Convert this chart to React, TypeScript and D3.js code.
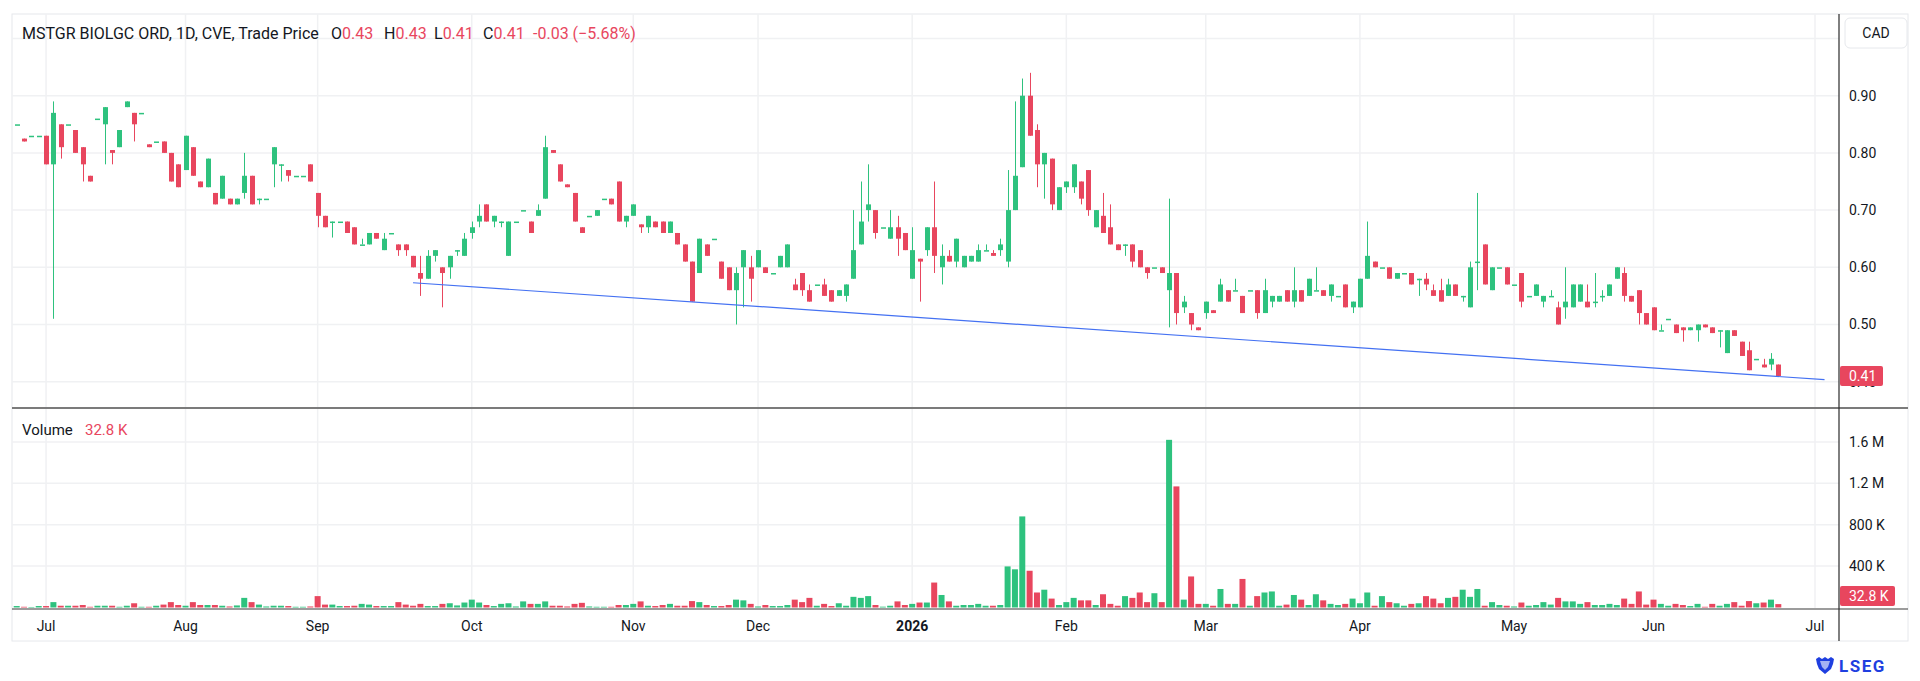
import React from "react";
import * as d3 from "d3";

// open, high, low, close, volume (thousands)
type Bar = [number, number, number, number, number];

const jun25: Bar[] = [
  [0.85, 0.85, 0.85, 0.85, 14], [0.825, 0.825, 0.82, 0.82, 7], [0.83, 0.83, 0.83, 0.83, 5], [0.83, 0.83, 0.83, 0.83, 14],
];
const jul25: Bar[] = [
  [0.83, 0.83, 0.78, 0.78, 14], [0.78, 0.89, 0.51, 0.87, 52], [0.85, 0.85, 0.79, 0.81, 17], [0.85, 0.85, 0.85, 0.85, 17],
  [0.84, 0.84, 0.8, 0.8, 17], [0.81, 0.81, 0.75, 0.78, 24], [0.76, 0.76, 0.75, 0.75, 7], [0.86, 0.86, 0.86, 0.86, 17],
  [0.85, 0.88, 0.78, 0.88, 17], [0.805, 0.805, 0.78, 0.8, 17], [0.81, 0.84, 0.81, 0.84, 7], [0.88, 0.89, 0.88, 0.89, 17],
  [0.87, 0.87, 0.82, 0.85, 41], [0.87, 0.87, 0.87, 0.87, 7], [0.815, 0.815, 0.81, 0.81, 7], [0.82, 0.82, 0.82, 0.82, 17],
  [0.82, 0.82, 0.8, 0.8, 28], [0.8, 0.8, 0.75, 0.75, 52], [0.78, 0.78, 0.74, 0.74, 24],
];
const aug25: Bar[] = [
  [0.77, 0.83, 0.77, 0.83, 17], [0.81, 0.81, 0.76, 0.76, 52], [0.75, 0.75, 0.74, 0.74, 24], [0.74, 0.79, 0.74, 0.79, 24],
  [0.73, 0.73, 0.71, 0.71, 24], [0.72, 0.76, 0.72, 0.76, 17], [0.72, 0.72, 0.71, 0.71, 10], [0.71, 0.72, 0.71, 0.72, 20],
  [0.73, 0.8, 0.72, 0.76, 93], [0.76, 0.76, 0.71, 0.71, 52], [0.72, 0.72, 0.71, 0.72, 28], [0.72, 0.72, 0.72, 0.72, 10],
  [0.78, 0.81, 0.74, 0.81, 17], [0.78, 0.78, 0.75, 0.78, 17], [0.77, 0.77, 0.75, 0.76, 14], [0.76, 0.76, 0.76, 0.76, 7],
  [0.76, 0.76, 0.76, 0.76, 7], [0.78, 0.78, 0.75, 0.75, 10],
];
const sep25: Bar[] = [
  [0.73, 0.73, 0.67, 0.69, 110], [0.69, 0.69, 0.67, 0.67, 28], [0.68, 0.68, 0.652, 0.68, 28], [0.68, 0.68, 0.68, 0.68, 14],
  [0.68, 0.68, 0.66, 0.66, 14], [0.67, 0.67, 0.64, 0.64, 17], [0.64, 0.65, 0.64, 0.64, 35], [0.64, 0.66, 0.64, 0.66, 28],
  [0.66, 0.66, 0.65, 0.65, 14], [0.63, 0.66, 0.63, 0.65, 14], [0.66, 0.66, 0.66, 0.66, 14], [0.64, 0.64, 0.62, 0.63, 52],
  [0.64, 0.64, 0.62, 0.63, 28], [0.62, 0.62, 0.6, 0.6, 17], [0.59, 0.62, 0.55, 0.58, 35], [0.58, 0.63, 0.58, 0.62, 14],
  [0.62, 0.63, 0.61, 0.63, 14], [0.6, 0.6, 0.53, 0.59, 35], [0.6, 0.62, 0.58, 0.62, 41], [0.63, 0.63, 0.62, 0.63, 20],
  [0.62, 0.66, 0.62, 0.65, 48],
];
const oct25: Bar[] = [
  [0.66, 0.68, 0.65, 0.67, 76], [0.68, 0.71, 0.67, 0.69, 48], [0.71, 0.71, 0.68, 0.68, 24], [0.68, 0.69, 0.67, 0.69, 14],
  [0.68, 0.68, 0.67, 0.68, 35], [0.62, 0.68, 0.62, 0.68, 41], [0.68, 0.68, 0.68, 0.68, 10], [0.7, 0.7, 0.7, 0.7, 59],
  [0.68, 0.68, 0.66, 0.66, 35], [0.69, 0.71, 0.69, 0.7, 35], [0.72, 0.83, 0.72, 0.81, 59], [0.805, 0.805, 0.8, 0.8, 17],
  [0.78, 0.78, 0.75, 0.75, 17], [0.745, 0.745, 0.74, 0.74, 10], [0.73, 0.73, 0.68, 0.68, 35], [0.67, 0.67, 0.66, 0.66, 45],
  [0.69, 0.69, 0.69, 0.69, 10], [0.69, 0.7, 0.69, 0.7, 7], [0.72, 0.72, 0.72, 0.72, 7], [0.72, 0.72, 0.71, 0.71, 7],
  [0.75, 0.75, 0.68, 0.68, 24], [0.68, 0.69, 0.67, 0.69, 24],
];
const nov25: Bar[] = [
  [0.69, 0.71, 0.69, 0.71, 35], [0.675, 0.675, 0.66, 0.67, 59], [0.67, 0.69, 0.66, 0.69, 17], [0.68, 0.68, 0.67, 0.67, 14],
  [0.68, 0.68, 0.66, 0.66, 24], [0.66, 0.68, 0.66, 0.68, 35], [0.66, 0.66, 0.64, 0.64, 17], [0.64, 0.64, 0.61, 0.61, 17],
  [0.61, 0.61, 0.54, 0.54, 62], [0.59, 0.65, 0.59, 0.65, 52], [0.64, 0.64, 0.62, 0.62, 24], [0.65, 0.65, 0.65, 0.65, 14],
  [0.61, 0.61, 0.58, 0.58, 14], [0.6, 0.6, 0.56, 0.56, 24], [0.56, 0.6, 0.5, 0.59, 76], [0.6, 0.63, 0.53, 0.63, 69],
  [0.6, 0.62, 0.54, 0.58, 35],
];
const dec25: Bar[] = [
  [0.6, 0.63, 0.6, 0.63, 10], [0.6, 0.6, 0.59, 0.59, 24], [0.59, 0.59, 0.59, 0.59, 14], [0.6, 0.62, 0.6, 0.62, 14],
  [0.6, 0.64, 0.6, 0.64, 24], [0.57, 0.58, 0.56, 0.56, 76], [0.59, 0.59, 0.55, 0.56, 52], [0.56, 0.57, 0.54, 0.54, 93],
  [0.57, 0.57, 0.57, 0.57, 17], [0.57, 0.58, 0.55, 0.55, 35], [0.56, 0.56, 0.54, 0.54, 14], [0.55, 0.56, 0.55, 0.56, 41],
  [0.55, 0.57, 0.54, 0.57, 17], [0.58, 0.7, 0.58, 0.63, 103], [0.64, 0.75, 0.64, 0.68, 93], [0.7, 0.78, 0.68, 0.71, 110],
  [0.7, 0.7, 0.65, 0.66, 24], [0.67, 0.67, 0.67, 0.67, 8], [0.65, 0.7, 0.65, 0.67, 17], [0.67, 0.69, 0.62, 0.65, 59],
  [0.66, 0.66, 0.63, 0.63, 24],
];
const jan26: Bar[] = [
  [0.58, 0.67, 0.58, 0.63, 35], [0.615, 0.615, 0.54, 0.61, 48], [0.63, 0.67, 0.62, 0.67, 48], [0.67, 0.75, 0.59, 0.62, 241],
  [0.6, 0.64, 0.57, 0.62, 121], [0.62, 0.63, 0.61, 0.61, 59], [0.61, 0.65, 0.6, 0.65, 17], [0.6, 0.62, 0.6, 0.62, 24],
  [0.61, 0.62, 0.61, 0.62, 24], [0.61, 0.64, 0.61, 0.63, 35], [0.63, 0.64, 0.63, 0.63, 17], [0.625, 0.63, 0.62, 0.62, 17],
  [0.63, 0.65, 0.62, 0.64, 24], [0.61, 0.77, 0.6, 0.7, 397], [0.7, 0.89, 0.7, 0.76, 369], [0.775, 0.93, 0.775, 0.9, 880],
  [0.9, 0.94, 0.83, 0.83, 355], [0.84, 0.85, 0.74, 0.78, 145], [0.78, 0.8, 0.72, 0.8, 172], [0.79, 0.79, 0.7, 0.71, 86],
  [0.7, 0.74, 0.7, 0.74, 24],
];
const feb26: Bar[] = [
  [0.74, 0.75, 0.73, 0.75, 52], [0.74, 0.78, 0.73, 0.78, 93], [0.75, 0.75, 0.71, 0.72, 69], [0.77, 0.77, 0.69, 0.7, 69],
  [0.67, 0.7, 0.67, 0.7, 24], [0.69, 0.73, 0.66, 0.66, 128], [0.67, 0.71, 0.64, 0.64, 35], [0.64, 0.64, 0.63, 0.63, 17],
  [0.64, 0.64, 0.62, 0.64, 110], [0.64, 0.64, 0.6, 0.61, 93], [0.63, 0.63, 0.6, 0.6, 145], [0.6, 0.6, 0.58, 0.59, 52],
  [0.6, 0.6, 0.6, 0.6, 138], [0.6, 0.6, 0.59, 0.59, 52], [0.56, 0.72, 0.495, 0.59, 1620], [0.59, 0.59, 0.5, 0.52, 1170],
  [0.53, 0.55, 0.52, 0.54, 76], [0.52, 0.52, 0.49, 0.5, 300], [0.495, 0.495, 0.49, 0.49, 35],
];
const mar26: Bar[] = [
  [0.52, 0.54, 0.51, 0.54, 35], [0.525, 0.525, 0.52, 0.52, 17], [0.54, 0.58, 0.54, 0.57, 179], [0.56, 0.56, 0.54, 0.54, 35],
  [0.56, 0.58, 0.56, 0.56, 35], [0.55, 0.55, 0.52, 0.52, 276], [0.56, 0.56, 0.56, 0.56, 17], [0.56, 0.56, 0.51, 0.52, 110],
  [0.52, 0.58, 0.52, 0.56, 145], [0.54, 0.55, 0.53, 0.55, 155], [0.54, 0.55, 0.54, 0.55, 17], [0.56, 0.56, 0.54, 0.54, 28],
  [0.54, 0.6, 0.53, 0.56, 121], [0.56, 0.56, 0.54, 0.54, 76], [0.55, 0.58, 0.55, 0.58, 24], [0.56, 0.6, 0.56, 0.56, 128],
  [0.56, 0.56, 0.55, 0.55, 69], [0.55, 0.57, 0.54, 0.57, 35], [0.55, 0.55, 0.55, 0.55, 24], [0.57, 0.57, 0.53, 0.53, 35],
  [0.53, 0.54, 0.52, 0.54, 86],
];
const apr26: Bar[] = [
  [0.53, 0.58, 0.53, 0.58, 41], [0.58, 0.68, 0.58, 0.62, 145], [0.61, 0.61, 0.6, 0.6, 17], [0.6, 0.6, 0.6, 0.6, 110],
  [0.6, 0.6, 0.58, 0.58, 52], [0.58, 0.59, 0.58, 0.59, 41], [0.59, 0.59, 0.59, 0.59, 17], [0.59, 0.59, 0.57, 0.57, 35],
  [0.58, 0.58, 0.55, 0.58, 41], [0.58, 0.59, 0.56, 0.57, 110], [0.56, 0.57, 0.55, 0.55, 86], [0.56, 0.58, 0.54, 0.54, 41],
  [0.55, 0.58, 0.55, 0.57, 93], [0.57, 0.57, 0.55, 0.55, 103], [0.55, 0.55, 0.54, 0.55, 172], [0.53, 0.61, 0.53, 0.6, 103],
  [0.61, 0.73, 0.56, 0.61, 179], [0.64, 0.64, 0.57, 0.57, 17], [0.56, 0.6, 0.56, 0.6, 52], [0.6, 0.6, 0.6, 0.6, 24],
  [0.6, 0.6, 0.57, 0.57, 17],
];
const may26: Bar[] = [
  [0.57, 0.57, 0.57, 0.57, 10], [0.59, 0.59, 0.53, 0.54, 48], [0.55, 0.55, 0.55, 0.55, 17], [0.55, 0.57, 0.55, 0.57, 24],
  [0.54, 0.55, 0.53, 0.55, 52], [0.55, 0.56, 0.55, 0.55, 28], [0.53, 0.54, 0.5, 0.5, 93], [0.53, 0.6, 0.51, 0.54, 59],
  [0.53, 0.57, 0.53, 0.57, 59], [0.54, 0.57, 0.54, 0.57, 35], [0.54, 0.57, 0.53, 0.53, 52], [0.54, 0.59, 0.53, 0.54, 24],
  [0.55, 0.56, 0.54, 0.55, 24], [0.55, 0.57, 0.55, 0.57, 35], [0.58, 0.6, 0.58, 0.6, 24], [0.59, 0.6, 0.54, 0.55, 86],
  [0.55, 0.55, 0.54, 0.54, 35], [0.56, 0.56, 0.5, 0.52, 155], [0.52, 0.52, 0.5, 0.5, 28],
];
const jun26: Bar[] = [
  [0.53, 0.53, 0.49, 0.49, 76], [0.49, 0.5, 0.49, 0.49, 35], [0.51, 0.51, 0.51, 0.51, 17], [0.5, 0.5, 0.485, 0.485, 35],
  [0.495, 0.495, 0.47, 0.49, 24], [0.49, 0.495, 0.49, 0.495, 14], [0.49, 0.5, 0.47, 0.5, 35], [0.5, 0.5, 0.495, 0.495, 7],
  [0.495, 0.495, 0.485, 0.485, 35], [0.49, 0.49, 0.46, 0.49, 17], [0.45, 0.49, 0.45, 0.49, 35], [0.49, 0.49, 0.48, 0.48, 52],
  [0.47, 0.47, 0.445, 0.445, 17], [0.455, 0.47, 0.42, 0.42, 62], [0.44, 0.44, 0.44, 0.44, 41], [0.43, 0.44, 0.425, 0.425, 48],
  [0.43, 0.45, 0.42, 0.44, 76], [0.43, 0.43, 0.41, 0.41, 32.8],
];

const candles: Bar[] = [
  ...jun25, ...jul25, ...aug25, ...sep25, ...oct25, ...nov25, ...dec25,
  ...jan26, ...feb26, ...mar26, ...apr26, ...may26, ...jun26,
];

// time axis: label and the bar index where that month begins
const monthLabels = ["Jul", "Aug", "Sep", "Oct", "Nov", "Dec", "2026", "Feb", "Mar", "Apr", "May", "Jun", "Jul"];
const monthStart = [4, 23, 41, 62, 84, 101, 122, 143, 162, 183, 204, 223, 245];

// gridlines every 0.10; the 1.00 label sits under the currency box so only 0.40–0.90 are labelled
const priceGrid = [0.4, 0.5, 0.6, 0.7, 0.8, 0.9, 1.0];
const priceLabels = [0.4, 0.5, 0.6, 0.7, 0.8, 0.9];
const volumeTicks = [400, 800, 1200, 1600];
const volumeTickLabels = ["400 K", "800 K", "1.2 M", "1.6 M"];

// support line drawn on the chart: [bar index, price]
const trendline: [number, number][] = [[54, 0.573], [246.3, 0.4035]];

const title = "MSTGR BIOLGC ORD, 1D, CVE, Trade Price";
const legendOHLC = ["0.43", "0.43", "0.41", "0.41"];
const legendChange = "-0.03 (\u22125.68%)";
const lastPrice = 0.41;
const lastVolume = "32.8 K";

const UP = "#2ec27e";
const DOWN = "#e8465e";
const GRID = "#f0f1f3";
const TEXT = "#131722";
const FONT = "Roboto, 'Noto Sans', sans-serif";

export default function App() {
  const width = 1920;
  const height = 681;
  const panel = { left: 12, top: 14, right: 1908, bottom: 641 };
  const axisX = 1839;
  const paneSplit = 408;
  const volBottom = 608;

  const x = d3.scaleLinear().domain([0, candles.length - 1]).range([16.7, 1778.3]);
  const y = d3.scaleLinear().domain([0.4, 0.9]).range([381.7, 95.7]);
  const yv = d3.scaleLinear().domain([0, 1600]).range([607.5, 441.9]);

  const bodyW = 5;
  const volW = 6;
  const isUp = (b: Bar) => b[3] >= b[0];

  const trendPath = d3.line<[number, number]>()
    .x((d) => x(d[0]))
    .y((d) => y(d[1]))(trendline) as string;

  return (
    <div style={{ position: "absolute", left: 0, top: 0, width, height, background: "#fff" }}>
      <svg width={width} height={height} style={{ display: "block", fontFamily: FONT }}>
        <rect x={0} y={0} width={width} height={height} fill="#fff" />
        <defs>
          <clipPath id="pricePane">
            <rect x={panel.left} y={panel.top} width={axisX - panel.left} height={paneSplit - panel.top - 1} />
          </clipPath>
          <clipPath id="volPane">
            <rect x={panel.left} y={paneSplit + 1} width={axisX - panel.left} height={volBottom - paneSplit} />
          </clipPath>
        </defs>

        {/* panel frame */}
        <rect x={panel.left} y={panel.top} width={panel.right - panel.left} height={panel.bottom - panel.top}
          fill="none" stroke="#e6e8ec" strokeWidth={1} />

        {/* vertical grid */}
        {monthStart.map((m, i) => (
          <line key={"vg" + i} x1={x(m)} x2={x(m)} y1={panel.top} y2={volBottom} stroke={GRID} strokeWidth={1.5} />
        ))}

        {/* price grid + labels */}
        {priceGrid.map((t) => (
          <line key={"pg" + t} x1={panel.left} x2={axisX} y1={y(t)} y2={y(t)} stroke={GRID} strokeWidth={1.5} />
        ))}
        {priceLabels.map((t) => (
          <text key={"pl" + t} x={1849} y={y(t)} dy="0.35em" fontSize={14} fill={TEXT}>{t.toFixed(2)}</text>
        ))}

        {/* volume grid + labels */}
        {volumeTicks.map((t, i) => (
          <g key={"vt" + t}>
            <line x1={panel.left} x2={axisX} y1={yv(t)} y2={yv(t)} stroke={GRID} strokeWidth={1.5} />
            <text x={1849} y={yv(t)} dy="0.35em" fontSize={14} fill={TEXT}>{volumeTickLabels[i]}</text>
          </g>
        ))}

        {/* candles */}
        <g clipPath="url(#pricePane)">
          {candles.map((b, i) => {
            const c = isUp(b) ? UP : DOWN;
            const cx = Math.round(x(i)) + 0.5;
            const top = y(Math.max(b[0], b[3]));
            const bot = y(Math.min(b[0], b[3]));
            return (
              <g key={"c" + i}>
                <line x1={cx} x2={cx} y1={y(b[1])} y2={y(b[2])} stroke={c} strokeWidth={1} />
                <rect x={cx - bodyW / 2} y={top} width={bodyW} height={Math.max(1.5, bot - top)} fill={c} />
              </g>
            );
          })}
          <path d={trendPath} fill="none" stroke="#4471f2" strokeWidth={1.2} />
        </g>

        {/* volume bars */}
        <g clipPath="url(#volPane)">
          {candles.map((b, i) => (
            <rect key={"v" + i} x={x(i) - volW / 2} y={yv(b[4])} width={volW}
              height={Math.max(0.5, yv(0) - yv(b[4]))} fill={isUp(b) ? UP : DOWN} />
          ))}
        </g>

        {/* pane separators and axis lines */}
        <line x1={panel.left} x2={panel.right} y1={paneSplit} y2={paneSplit} stroke="#7b7b7b" strokeWidth={2} />
        <line x1={panel.left} x2={panel.right} y1={volBottom + 1} y2={volBottom + 1} stroke="#3a3a3a" strokeWidth={1.2} />
        <line x1={axisX} x2={axisX} y1={panel.top} y2={panel.bottom} stroke="#2a2a2a" strokeWidth={1.2} />

        {/* time axis labels */}
        {monthLabels.map((m, i) => (
          <text key={"ml" + i} x={x(monthStart[i])} y={631} textAnchor="middle" fontSize={14}
            fontWeight={m === "2026" ? 700 : 400} fill={TEXT}>{m}</text>
        ))}

        {/* currency box */}
        <rect x={1845} y={18} width={62} height={30} rx={5} fill="#fff" stroke="#e6e8ec" />
        <text x={1876} y={33} dy="0.35em" textAnchor="middle" fontSize={14} fill={TEXT}>CAD</text>

        {/* last price / volume tags */}
        <rect x={axisX + 1} y={y(lastPrice) - 10} width={43} height={20} rx={2} fill={DOWN} />
        <text x={1849} y={y(lastPrice)} dy="0.35em" fontSize={14} fill="#fff">{lastPrice.toFixed(2)}</text>
        <rect x={axisX + 1} y={586} width={55} height={20} rx={2} fill={DOWN} />
        <text x={1849} y={596} dy="0.35em" fontSize={14} fill="#fff">{lastVolume}</text>

        {/* legends */}
        <text x={22} y={33} dy="0.35em" fontSize={16} fill={TEXT}>{title}</text>
        {["O", "H", "L", "C"].map((k, i) => (
          <text key={k} x={[331, 384, 434, 483][i]} y={33} dy="0.35em" fontSize={16} fill={TEXT}>
            {k}<tspan fill={DOWN}>{legendOHLC[i]}</tspan>
          </text>
        ))}
        <text x={533} y={33} dy="0.35em" fontSize={16} fill={DOWN}>{legendChange}</text>
        <text x={22} y={430} dy="0.35em" fontSize={15} fill={TEXT}>Volume</text>
        <text x={85} y={430} dy="0.35em" fontSize={15} fill={DOWN}>{lastVolume}</text>

        {/* LSEG mark */}
        <g transform="translate(1816,657)" fill="#1f3fe0">
          <path d="M0,2 L3,0 L6,2 L9,0 L12,2 L15,0 L18,2 L17,7 L15,12 L9,17 L3,12 L1,7 Z" />
          <path d="M4,4 L14,4 L12,10 L9,13 L6,10 Z" fill="#fff" opacity={0.6} />
        </g>
        <text x={1839} y={672} fontSize={17} fontWeight={700} letterSpacing={1.5} fill="#1f3fe0">LSEG</text>
      </svg>
    </div>
  );
}
